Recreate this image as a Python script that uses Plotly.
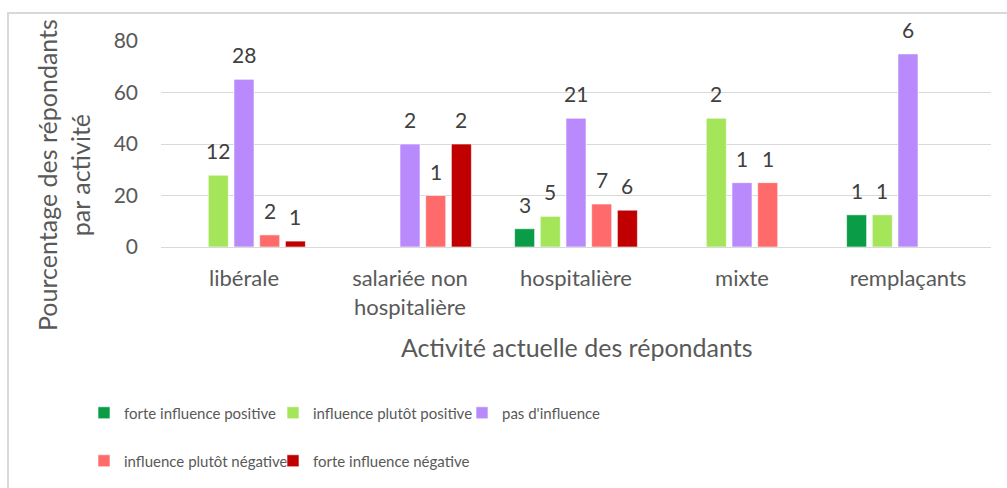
import plotly.graph_objects as go

categories = ["libérale", "salariée non<br>hospitalière", "hospitalière", "mixte", "remplaçants"]
series_names = ["forte influence positive", "influence plutôt positive", "pas d'influence",
                "influence plutôt négative", "forte influence négative"]
colors = ["#0B9C47", "#A4E55A", "#B98AFB", "#FF6A6A", "#C00000"]

# percentages of respondents per activity (bar heights)
pct_forte_pos = [None, None, 7.1, None, 12.5]
pct_plutot_pos = [27.9, None, 11.9, 50.0, 12.5]
pct_pas = [65.1, 40.0, 50.0, 25.0, 75.0]
pct_plutot_neg = [4.7, 20.0, 16.7, 25.0, None]
pct_forte_neg = [2.3, 40.0, 14.3, None, None]

# respondent counts (data labels)
n_forte_pos = [None, None, 3, None, 1]
n_plutot_pos = [12, None, 5, 2, 1]
n_pas = [28, 2, 21, 1, 6]
n_plutot_neg = [2, 1, 7, 1, None]
n_forte_neg = [1, 2, 6, None, None]

yticks = [0, 20, 40, 60, 80]

pcts = [pct_forte_pos, pct_plutot_pos, pct_pas, pct_plutot_neg, pct_forte_neg]
counts = [n_forte_pos, n_plutot_pos, n_pas, n_plutot_neg, n_forte_neg]

W, H = 1007, 488
ML, MR, MT, MB = 161, 16, 41, 241
PW, PH = W - ML - MR, H - MT - MB
BARGAP = 0.226
BARGROUPGAP = 0.22
FONT = "Lato"


def px2x(px):
    return (px - ML) / PW


def px2y(py):
    return (H - MB - py) / PH


fig = go.Figure()
for j, (name, col, vals) in enumerate(zip(series_names, colors, pcts)):
    last_in_row = j in (2, 4)
    fig.add_trace(go.Bar(
        x=categories, y=vals, name=name,
        marker=dict(color=col, line=dict(color="rgba(255,255,255,0.6)", width=1)),
        legend="legend" if j < 3 else "legend2",
        legendwidth=190 if last_in_row else None,
        hoverinfo="skip",
    ))

slot = (1 - BARGAP) / len(series_names)
annotations = []
for j, (vals, labs) in enumerate(zip(pcts, counts)):
    for i, (v, lab) in enumerate(zip(vals, labs)):
        if v is None or lab is None:
            continue
        annotations.append(dict(
            x=i + (j - 2) * slot, y=v, xref="x", yref="y",
            text=str(lab), showarrow=False, yanchor="bottom", yshift=10,
            font=dict(family=FONT, size=21, color="#404040"),
        ))

# axis titles
annotations.append(dict(
    x=px2x(63), y=px2y(175), xref="paper", yref="paper",
    text="Pourcentage des répondants<br>par activité", textangle=-90,
    showarrow=False, xanchor="center", yanchor="middle",
    font=dict(family=FONT, size=25, color="#595959"),
))
annotations.append(dict(
    x=px2x(577), y=px2y(347), xref="paper", yref="paper",
    text="Activité actuelle des répondants",
    showarrow=False, xanchor="center", yanchor="middle",
    font=dict(family=FONT, size=25, color="#595959"),
))

legend_common = dict(
    orientation="h", xref="container", yref="container",
    xanchor="left", yanchor="middle",
    entrywidth=144, entrywidthmode="pixels",
    font=dict(family=FONT, size=15, color="#595959"),
    bgcolor="rgba(0,0,0,0)", itemclick=False, itemdoubleclick=False,
    traceorder="normal",
)

fig.update_layout(
    width=W, height=H,
    margin=dict(l=ML, r=MR, t=MT, b=MB, pad=0),
    paper_bgcolor="white", plot_bgcolor="white",
    barmode="group", bargap=BARGAP, bargroupgap=BARGROUPGAP,
    showlegend=True,
    legend=dict(x=84 / W, y=1 - 413 / H, **legend_common),
    legend2=dict(x=84 / W, y=1 - 461 / H, **legend_common),
    xaxis=dict(
        type="category", showgrid=False, zeroline=False,
        showline=True, linecolor="#D9D9D9", linewidth=1,
        ticks="", tickfont=dict(family=FONT, size=22, color="#595959"),
        ticklabelstandoff=12,
    ),
    yaxis=dict(
        range=[0, 80], tickvals=yticks, showgrid=True, gridcolor="#D9D9D9", gridwidth=1,
        zeroline=False, showline=False, ticks="",
        tickfont=dict(family=FONT, size=21, color="#595959"),
        ticklabelstandoff=22,
    ),
    annotations=annotations,
    shapes=[dict(
        type="rect", xref="paper", yref="paper",
        x0=px2x(8), x1=px2x(W + 20), y0=px2y(H + 20), y1=px2y(13),
        line=dict(color="#D9D9D9", width=2), fillcolor="rgba(0,0,0,0)", layer="below",
    )],
)

fig.write_html("out.html", config={"displayModeBar": False},
               post_script="document.body.style.margin='0';")
